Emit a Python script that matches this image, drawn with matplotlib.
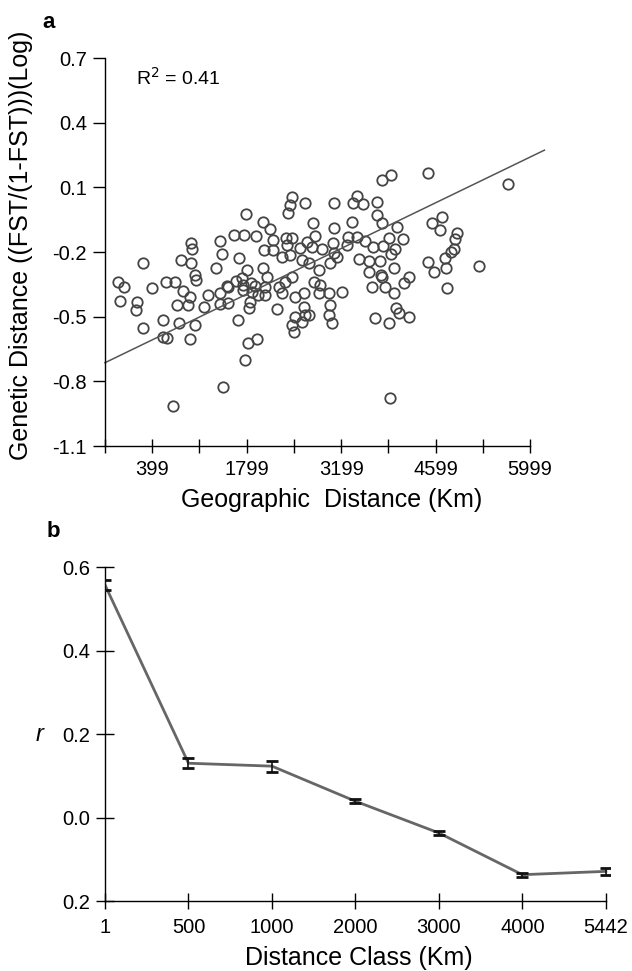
import matplotlib
matplotlib.use("Agg")
import matplotlib.pyplot as plt
import numpy as np

plt.rcParams['font.family'] = ['Liberation Sans', 'DejaVu Sans']

# panel a: pairwise geographic vs genetic distance
geo_km = [979, 990, 2468, 2665, 2443, 2418, 1786, 2047, 2788, 2146,
          2813, 1617, 1765, 1934, 2195, 2383, 2477, 1405, 2690, 2394,
          2765, 2062, 2195, 2913, 3803, 3936, 4479, 3095, 3441, 3382,
          3521, 3728, 3728, 3358, 3803, 4544, 4690, 4665, 4025, 3095,
          3432, 3307, 3901, 4123, 4890, 3555, 3085, 3284, 3678, 3826,
          4865, 4000, 5665, 4922,
          267, 826, 974, 1439, 1691, 1341, 1034, 1044, 1800, 1726,
          2047, -104, -19, 604, 737, 392, 860, 960, 1231, 1405,
          1519, 1637, 1751, 1876, 1973, -80, 178, 159, 762, 935,
          1172, 1405, 1528, 1849, 1835, 564, 797, 1034, 267, 1667,
          564, 614, 960, 1948, 1825,
          2324, 2447, 2595, 3140, 2102, 2621, 2720, 2868, 3040, 3461,
          3610, 3782, 3610, 3797, 3981, 4203, 4129, 2472, 2373, 2275,
          2077, 2077, 2324, 2521, 2646, 2794, 2868, 3016, 3214, 3659,
          3847, 3807, 3981, 3040, 3016, 3066, 2646, 2670, 2250, 2521,
          2472, 2621, 2720, 2498, 3708, 3906, 4005, 4055, 4203,
          4493, 4576, 4731, 4755, 4773, 4832, 5236, 708, 1454, 1775,
          3920, 3940, 3100, 1740, 1859, 1504, 1924, 2888]
gen_dist = [-0.158, -0.186, 0.057, 0.029, 0.018, -0.018, -0.024, -0.059, -0.067, -0.094,
            -0.126, -0.121, -0.121, -0.126, -0.144, -0.136, -0.133, -0.149, -0.152, -0.167,
            -0.178, -0.190, -0.190, -0.187, 0.134, 0.157, 0.168, 0.029, 0.060, 0.029,
            0.021, 0.031, -0.028, -0.059, -0.067, -0.064, -0.039, -0.098, -0.082, -0.090,
            -0.132, -0.132, -0.136, -0.141, -0.141, -0.147, -0.159, -0.167, -0.178, -0.172,
            -0.187, -0.187, 0.115, -0.110,
            -0.252, -0.237, -0.252, -0.210, -0.226, -0.275, -0.306, -0.330, -0.283, -0.322,
            -0.275, -0.338, -0.361, -0.338, -0.340, -0.368, -0.381, -0.407, -0.399, -0.391,
            -0.361, -0.334, -0.353, -0.384, -0.399, -0.427, -0.430, -0.469, -0.446, -0.446,
            -0.453, -0.442, -0.438, -0.430, -0.461, -0.515, -0.531, -0.538, -0.554, -0.515,
            -0.593, -0.600, -0.603, -0.603, -0.623,
            -0.222, -0.214, -0.183, -0.222, -0.314, -0.237, -0.252, -0.283, -0.252, -0.232,
            -0.244, -0.244, -0.291, -0.306, -0.275, -0.314, -0.345, -0.314, -0.338, -0.361,
            -0.361, -0.399, -0.391, -0.407, -0.391, -0.338, -0.391, -0.391, -0.384, -0.361,
            -0.361, -0.314, -0.391, -0.446, -0.492, -0.531, -0.453, -0.492, -0.464, -0.500,
            -0.538, -0.523, -0.492, -0.569, -0.504, -0.531, -0.461, -0.484, -0.500,
            -0.245, -0.291, -0.229, -0.276, -0.368, -0.198, -0.265, -0.913, -0.825, -0.701,
            -0.877, -0.209, -0.205, -0.376, -0.345, -0.358, -0.358, -0.353]
fit_intercept = -0.668
fit_slope = 1.514e-4
fit_x_range = [-301, 6212]
r2_text = "R$^2$ = 0.41"

geo_ticks = [-301, 399, 1099, 1799, 2499, 3199, 3899, 4599, 5299, 5999]
geo_labels = ["", "399", "", "1799", "", "3199", "", "4599", "", "5999"]
gen_ticks = [0.7, 0.4, 0.1, -0.2, -0.5, -0.8, -1.1]

# panel b: mantel correlogram
classes = ["1", "500", "1000", "2000", "3000", "4000", "5442"]
r_vals = [0.557, 0.130, 0.123, 0.039, -0.037, -0.137, -0.129]
r_err = [0.012, 0.012, 0.013, 0.005, 0.005, 0.005, 0.009]
r_ticks = [0.6, 0.4, 0.2, 0.0, -0.2]
r_tick_labels = ["0.6", "0.4", "0.2", "0.0", "0.2"]

fig = plt.figure(figsize=(6.32, 9.71), dpi=100)
W, H = 632, 971

# ---- panel a
ax1 = fig.add_axes([105 / W, 1 - 446 / H, (547 - 105) / W, 388 / H])
ax1.plot(geo_km, gen_dist, 'o', ms=7.5, mfc='none', mec='#444444', mew=1.3)
fx = np.array(fit_x_range, dtype=float)
ax1.plot(fx, fit_intercept + fit_slope * fx, color='#555555', lw=1.1, clip_on=False)
ax1.set_xlim(-301, 6250)
ax1.set_ylim(-1.1, 0.7)
for s in ['top', 'right']:
    ax1.spines[s].set_visible(False)
ax1.spines['left'].set_bounds(-1.1, 0.7)
ax1.spines['bottom'].set_bounds(-301, 5999)
for s in ['left', 'bottom']:
    ax1.spines[s].set_linewidth(1.0)
ax1.set_xticks(geo_ticks)
ax1.set_xticklabels(geo_labels)
ax1.set_yticks(gen_ticks)
ax1.set_yticklabels([f"{t:.1f}" for t in gen_ticks])
ax1.tick_params(axis='x', direction='inout', length=10, width=1.0, pad=5, labelsize=14.5)
ax1.tick_params(axis='y', direction='out', length=9, width=1.0, pad=4, labelsize=14.5)
ax1.text(159, 0.61, r2_text, fontsize=14, va='center', ha='left')
ax1.set_xlabel("Geographic  Distance (Km)", fontsize=18)
ax1.xaxis.set_label_coords(0.512, -0.139)
ax1.xaxis.label.set_va('center')
ax1.set_ylabel("Genetic Distance ((FST/(1-FST)))(Log)", fontsize=18)
ax1.yaxis.set_label_coords(-0.19, 0.518)
ax1.yaxis.label.set_va('center')
fig.text(42 / W, 1 - 28 / H, "a", fontsize=16, fontweight='bold')

# ---- panel b
ax2 = fig.add_axes([105 / W, 1 - 901 / H, (610 - 105) / W, 334 / H])
xpos = np.arange(len(classes))
ax2.plot(xpos, r_vals, color='#666666', lw=2.0, zorder=2)
ax2.errorbar(xpos, r_vals, yerr=r_err, fmt='none', ecolor='#111111',
             elinewidth=1.2, capsize=4, capthick=2, zorder=3)
ax2.set_xlim(0, 6.05)
ax2.set_ylim(-0.2, 0.6)
for s in ['top', 'right']:
    ax2.spines[s].set_visible(False)
ax2.spines['bottom'].set_bounds(0, 6)
ax2.spines['left'].set_bounds(-0.2, 0.6)
for s in ['left', 'bottom']:
    ax2.spines[s].set_linewidth(1.0)
ax2.set_xticks(xpos)
ax2.set_xticklabels(classes)
ax2.set_yticks(r_ticks)
ax2.set_yticklabels(r_tick_labels)
ax2.tick_params(axis='x', direction='inout', length=11, width=1.0, pad=7, labelsize=14.5)
ax2.tick_params(axis='y', direction='inout', length=13, width=1.0, pad=4, labelsize=14.5)
ax2.set_xlabel("Distance Class (Km)", fontsize=18)
ax2.xaxis.set_label_coords(0.503, -0.171)
ax2.xaxis.label.set_va('center')
ax2.set_ylabel("r", fontsize=17, style='italic', rotation=0)
ax2.yaxis.set_label_coords(-0.129, 0.5)
ax2.yaxis.label.set_va('center')
fig.text(47 / W, 1 - 537 / H, "b", fontsize=16, fontweight='bold')

fig.savefig("out.png", dpi=100)
